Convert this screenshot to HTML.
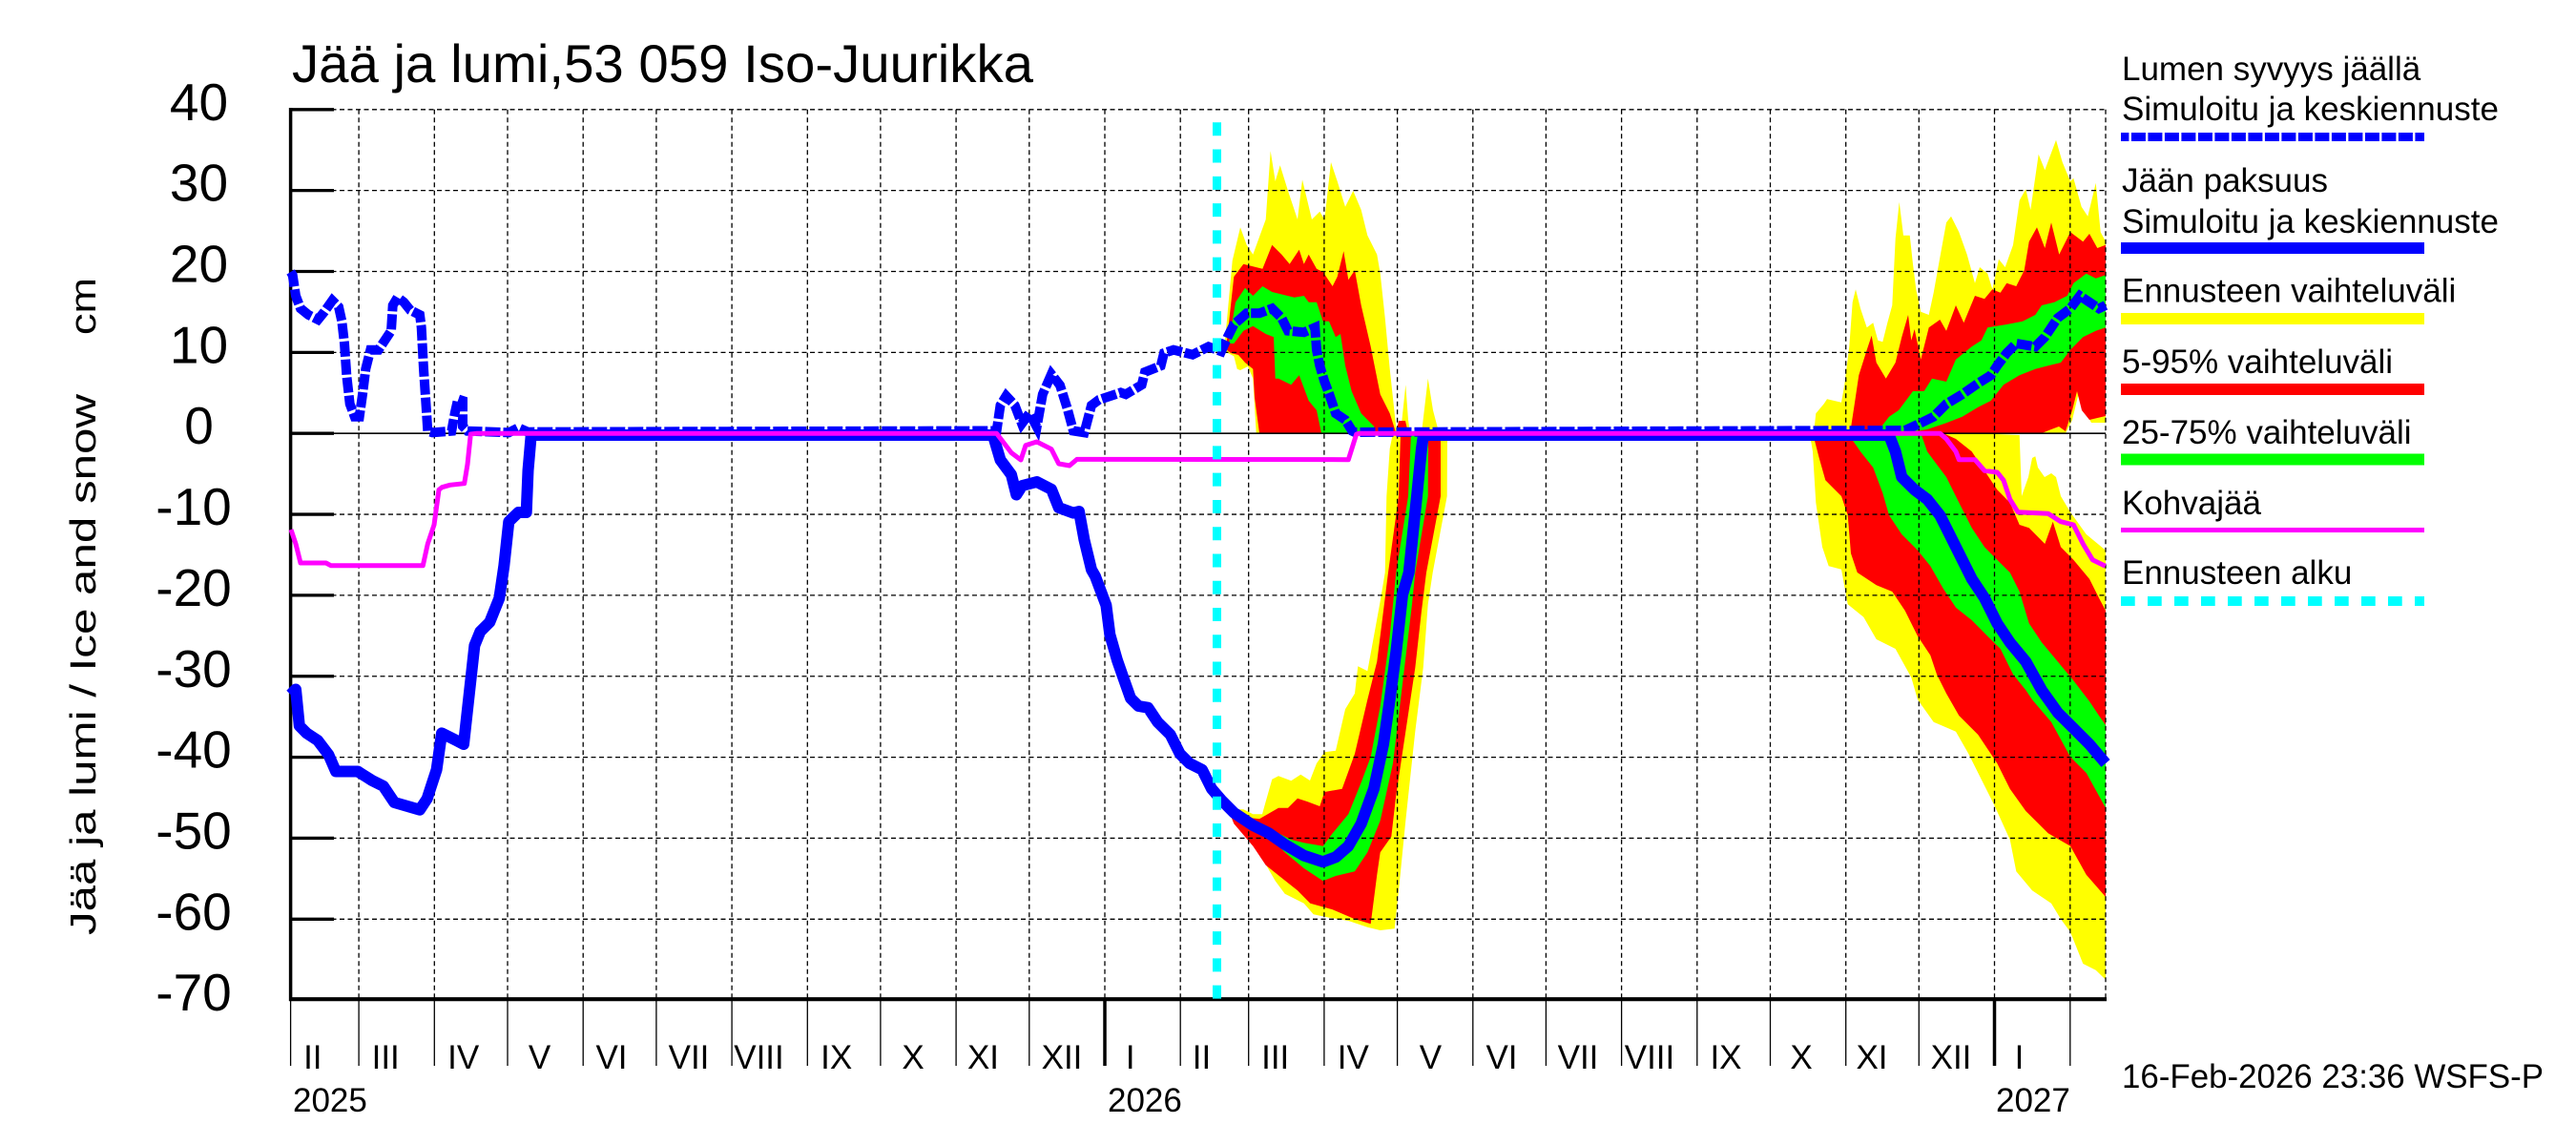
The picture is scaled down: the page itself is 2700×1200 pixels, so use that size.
<!DOCTYPE html>
<html><head><meta charset="utf-8"><style>
html,body{margin:0;padding:0;background:#fff;}
svg{display:block;}
text{font-family:"Liberation Sans",Arial,sans-serif;fill:#000;}
</style></head><body>
<svg width="2700" height="1200" viewBox="0 0 2700 1200" xmlns="http://www.w3.org/2000/svg">
<rect x="0" y="0" width="2700" height="1200" fill="#fff"/>

<!-- ===== spring 2026 snow bands ===== -->
<polygon fill="#ffff00" points="1283,368 1291.7,273.3 1300,238.3 1306.7,256.7 1313.3,266.7 1326.7,230 1331.7,158.3 1336.7,190 1341.7,173.3 1350,200 1360,230 1365,188.3 1375,230 1383.3,221.7 1388.3,230 1395,170 1401.7,190 1410,216.7 1418.3,200 1426.7,220 1433.3,246.7 1443.3,266.7 1446.7,286.7 1451.7,333.3 1456.7,386.7 1461.7,433.3 1464,454 1468,454 1473.3,403.3 1476,440 1478,454 1490,454 1496.7,396.7 1502,430 1508.3,454 1316.7,454 1313.3,396.7 1308,384 1300,388 1296.7,386.7 1293.3,373.3"/>
<polygon fill="#ff0000" points="1285,366 1293.3,290 1303.3,276.7 1323.3,281.7 1333.3,256.7 1343.3,266.7 1351.7,276.7 1361.7,261.7 1366.7,276.7 1371.7,266.7 1380,281.7 1386.7,285 1396.7,300 1401.7,290 1408.3,263.3 1413.3,293.3 1420,283.3 1426.7,320 1436.7,363.3 1446.7,413.3 1456.7,433.3 1463.3,454 1466,441 1473,441 1476,454 1320,454 1315,416.7 1313.3,386.7 1305,380 1298,372 1290,370"/>
<polygon fill="#00ff00" points="1288,360 1290,346.7 1295,316.7 1305,301.7 1313.3,310 1323.3,300 1333.3,306 1356.7,311.7 1366.7,310 1371.7,316.7 1380,316.7 1386.7,336.7 1393,336.7 1400,353.3 1405,350 1410,383.3 1416.7,410 1426.7,433.3 1440,446.7 1441.7,454 1385,454 1380,430 1371.7,420 1361.7,393.3 1353.3,403.3 1340,396.7 1336.7,396.7 1335,353.3 1326.7,350 1313.3,341.7 1303.3,346.7 1293.3,360"/>

<!-- ===== spring 2026 ice bands ===== -->
<polygon fill="#ffff00" points="1288,848.3 1303.3,848.3 1313.3,853.3 1323,853.3 1326.7,840 1333.3,816.7 1340,813.3 1353.3,818.3 1363.3,811.7 1373,818 1380,800 1388.3,788.3 1400,786.7 1410,743.3 1420,726.7 1423.3,698.3 1433.3,703.3 1440,666.7 1446.7,630 1451.7,600 1453.3,520 1456.7,470 1460,454 1517,454 1516.7,520 1501.7,600 1496.7,633.3 1491.7,700 1483.3,766.7 1473.3,860 1466.7,926.7 1461.7,973.3 1446.7,975 1433.3,971.7 1413.3,965 1393.3,961.7 1376.7,958.3 1366.7,946.7 1346.7,936.7 1336.7,923.3 1323.3,900 1306.7,870 1290,856"/>
<polygon fill="#ff0000" points="1290,855 1320,858.3 1340,846.7 1350,846.7 1360,836.7 1370,840 1383.3,845 1388.3,830 1406.7,826.7 1420,790 1433.3,733.3 1443.3,693.3 1450,640 1455,600 1466,520 1468,454 1510,454 1510,520 1495,600 1490,640 1483.3,700 1473.3,766.7 1463.3,833.3 1458.3,876.7 1446.7,893.3 1443.3,916.7 1436.7,968.3 1420,963.3 1396.7,953.3 1373.3,946.7 1360,933.3 1343.3,920 1326.7,906.7 1313.3,886.7 1293.3,863.3"/>
<polygon fill="#00ff00" points="1323.3,870 1335,873 1340,873.3 1353.3,880 1366.7,883.3 1386.7,886.7 1396.7,873.3 1413.3,853.3 1426.7,820 1436.7,793.3 1446.7,740 1456.7,666.7 1463.3,600 1476,520 1479,454 1497,454 1496.7,520 1483.3,600 1480,633.3 1470,716.7 1460,800 1446.7,860 1433.3,893.3 1420,913.3 1400,918 1386.7,923.3 1366.7,910 1346.7,893.3"/>

<!-- ===== autumn 2026 snow bands ===== -->
<polygon fill="#ffff00" points="1900,454 1901.7,448.3 1903.3,433.3 1911.7,423.3 1915,418.3 1930,421.7 1933.3,403.3 1938.3,363.3 1941.7,316.7 1945,303.3 1950,323.3 1956.7,343.3 1963.3,338.3 1968.3,356.7 1973.3,358.3 1978.3,338.3 1983.3,320 1986.7,250 1990.7,211.7 1995,246.7 2001.7,246.7 2005,276.7 2008.3,303.3 2013.3,326.7 2021.7,330 2026.7,306.7 2033.3,270 2040,233.3 2045,226.7 2053.3,243.3 2061.7,266.7 2070,296.7 2075,280 2083.3,286.7 2088.3,303.3 2095,271.7 2101.7,280 2110,256.7 2116.7,210 2123.3,198.3 2128.3,220 2136.7,161.7 2143.3,178.3 2155,146.7 2161.7,170 2170,190 2173.3,186.7 2181.7,216.7 2188.3,226.7 2196.7,191.7 2201.7,243.3 2207,253.3 2207,443 2192,443 2185,430 2178,415 2172,440 2165,454"/>
<polygon fill="#ff0000" points="1938,454 1940,448.3 1943.3,426.7 1948.3,393.3 1956.7,366.7 1961.7,351.7 1966.7,380 1976.7,396.7 1986.7,380 1993.3,353.3 2000,330 2003.3,356.7 2006.7,345 2013.3,376.7 2021.7,343.3 2033.3,335 2040,346.7 2050,320 2058.3,338.3 2070,310 2080,313.3 2088.3,303.3 2096.7,306.7 2103.3,296.7 2113.3,300 2121.7,283.3 2126.7,253.3 2135,238.3 2143.3,260 2150,233.3 2158.3,266.7 2170,243.3 2183.3,253.3 2190,245 2198.3,260 2207,256.7 2207,436 2190,440 2182,430 2177,410 2172,430 2165,452 2158,447 2150,450 2140,454"/>
<polygon fill="#00ff00" points="1966.7,454 1980,436.7 1990,430 2000,416.7 2005,410 2016.7,410 2025,396.7 2040,400 2050,376.7 2066.7,363.3 2076.7,356.7 2083.3,343.3 2103.3,340 2120,336.7 2133.3,330 2140,320 2153.3,316.7 2166.7,310 2173.3,296.7 2186.7,286.7 2196.7,291.7 2207,288.3 2207,343.3 2196.7,346.7 2183.3,353.3 2170,366.7 2160,380 2146.7,383.3 2133.3,386.7 2116.7,393.3 2100,403.3 2086.7,420 2073.3,426.7 2056.7,436.7 2040,443.3 2020,450 1993.3,454"/>

<!-- ===== autumn 2026 ice bands ===== -->
<polygon fill="#ffff00" points="1896.7,454 1900,473.3 1903.3,526.7 1910,573.3 1916.7,593.3 1930,596.7 1936.7,633.3 1953.3,646.7 1966.7,670 1986.7,680 2003.3,710 2010,733.3 2026.7,756.7 2050,766.7 2063.3,790 2073.3,810 2090,843.3 2106.7,880 2113.3,913.3 2130,933.3 2150,946.7 2160,963.3 2170,976.7 2183.3,1010 2196.7,1016.7 2207,1026.7 2207,576.7 2186.7,560 2170,536.7 2160,520 2155,500 2150,496 2143,500 2136,490 2133.3,478.3 2130,480 2126,500 2119,520 2116.7,456 2066.7,454"/>
<polygon fill="#ff0000" points="1900,454 1906.7,480 1913.3,503.3 1930,520 1936.7,540 1940,580 1946.7,600 1966.7,613.3 1983.3,620 1996.7,640 2010,666.7 2023.3,686.7 2030,706.7 2040,726.7 2053.3,750 2073.3,770 2093.3,800 2106.7,826.7 2123.3,850 2146.7,873.3 2170,886.7 2186.7,916.7 2207,940 2207,640 2200,626.7 2190,606.7 2173.3,586.7 2160,573.3 2151.7,546.7 2143.3,570 2126.7,553.3 2116.7,550 2106.7,526.7 2093.3,513.3 2080,493.3 2066.7,473.3 2050,460 2036.7,454"/>
<polygon fill="#00ff00" points="1936.7,454 1950,473.3 1963.3,490 1973.3,516.7 1980,540 1993.3,560 2010,576.7 2023.3,593.3 2036.7,616.7 2050,636.7 2066.7,650 2083.3,666.7 2096.7,680 2110,706.7 2123.3,723.3 2130,733.3 2150,756.7 2170,793.3 2186.7,810 2207,846.7 2207,760 2200,750 2190,735 2173.3,713.3 2156.7,693.3 2140,673.3 2126.7,653.3 2116.7,620 2106.7,600 2093.3,586.7 2080,573.3 2066.7,553.3 2053.3,526.7 2040,500 2030,486.7 2020,473.3 2013.3,454"/>

<!-- ===== grid ===== -->
<g stroke="#000" stroke-width="1.3" stroke-dasharray="5 3.5" fill="none">
<line x1="305" y1="114.8" x2="2207" y2="114.8"/>
<line x1="305" y1="199.65" x2="2207" y2="199.65"/>
<line x1="305" y1="284.5" x2="2207" y2="284.5"/>
<line x1="305" y1="369.35" x2="2207" y2="369.35"/>
<line x1="305" y1="539.05" x2="2207" y2="539.05"/>
<line x1="305" y1="623.9" x2="2207" y2="623.9"/>
<line x1="305" y1="708.75" x2="2207" y2="708.75"/>
<line x1="305" y1="793.6" x2="2207" y2="793.6"/>
<line x1="305" y1="878.45" x2="2207" y2="878.45"/>
<line x1="305" y1="963.3" x2="2207" y2="963.3"/>
<line x1="376.1" y1="114.8" x2="376.1" y2="1046"/>
<line x1="455.3" y1="114.8" x2="455.3" y2="1046"/>
<line x1="532" y1="114.8" x2="532" y2="1046"/>
<line x1="611.2" y1="114.8" x2="611.2" y2="1046"/>
<line x1="687.9" y1="114.8" x2="687.9" y2="1046"/>
<line x1="767.1" y1="114.8" x2="767.1" y2="1046"/>
<line x1="846.3" y1="114.8" x2="846.3" y2="1046"/>
<line x1="922.9" y1="114.8" x2="922.9" y2="1046"/>
<line x1="1002.1" y1="114.8" x2="1002.1" y2="1046"/>
<line x1="1078.8" y1="114.8" x2="1078.8" y2="1046"/>
<line x1="1158" y1="114.8" x2="1158" y2="1046"/>
<line x1="1237.2" y1="114.8" x2="1237.2" y2="1046"/>
<line x1="1308.7" y1="114.8" x2="1308.7" y2="1046"/>
<line x1="1387.9" y1="114.8" x2="1387.9" y2="1046"/>
<line x1="1464.6" y1="114.8" x2="1464.6" y2="1046"/>
<line x1="1543.8" y1="114.8" x2="1543.8" y2="1046"/>
<line x1="1620.4" y1="114.8" x2="1620.4" y2="1046"/>
<line x1="1699.6" y1="114.8" x2="1699.6" y2="1046"/>
<line x1="1778.8" y1="114.8" x2="1778.8" y2="1046"/>
<line x1="1855.5" y1="114.8" x2="1855.5" y2="1046"/>
<line x1="1934.7" y1="114.8" x2="1934.7" y2="1046"/>
<line x1="2011.3" y1="114.8" x2="2011.3" y2="1046"/>
<line x1="2090.5" y1="114.8" x2="2090.5" y2="1046"/>
<line x1="2169.8" y1="114.8" x2="2169.8" y2="1046"/>
<line x1="2207" y1="114.8" x2="2207" y2="1046"/>
</g>

<!-- zero line -->
<line x1="305" y1="454.2" x2="2207" y2="454.2" stroke="#000" stroke-width="1.6"/>

<!-- axes -->
<line x1="304.6" y1="113" x2="304.6" y2="1049" stroke="#000" stroke-width="3.5"/>
<line x1="303" y1="1047.2" x2="2208" y2="1047.2" stroke="#000" stroke-width="4.2"/>
<g stroke="#000" stroke-width="3.3">
<line x1="305" y1="114.8" x2="350" y2="114.8"/>
<line x1="305" y1="199.65" x2="350" y2="199.65"/>
<line x1="305" y1="284.5" x2="350" y2="284.5"/>
<line x1="305" y1="369.35" x2="350" y2="369.35"/>
<line x1="305" y1="454.2" x2="350" y2="454.2"/>
<line x1="305" y1="539.05" x2="350" y2="539.05"/>
<line x1="305" y1="623.9" x2="350" y2="623.9"/>
<line x1="305" y1="708.75" x2="350" y2="708.75"/>
<line x1="305" y1="793.6" x2="350" y2="793.6"/>
<line x1="305" y1="878.45" x2="350" y2="878.45"/>
<line x1="305" y1="963.3" x2="350" y2="963.3"/>
</g>

<!-- bottom month separators -->
<g stroke="#000" stroke-width="1.3">
<line x1="304.6" y1="1049" x2="304.6" y2="1117"/>
<line x1="376.1" y1="1049" x2="376.1" y2="1117"/>
<line x1="455.3" y1="1049" x2="455.3" y2="1117"/>
<line x1="532" y1="1049" x2="532" y2="1117"/>
<line x1="611.2" y1="1049" x2="611.2" y2="1117"/>
<line x1="687.9" y1="1049" x2="687.9" y2="1117"/>
<line x1="767.1" y1="1049" x2="767.1" y2="1117"/>
<line x1="846.3" y1="1049" x2="846.3" y2="1117"/>
<line x1="922.9" y1="1049" x2="922.9" y2="1117"/>
<line x1="1002.1" y1="1049" x2="1002.1" y2="1117"/>
<line x1="1078.8" y1="1049" x2="1078.8" y2="1117"/>
<line x1="1237.2" y1="1049" x2="1237.2" y2="1117"/>
<line x1="1308.7" y1="1049" x2="1308.7" y2="1117"/>
<line x1="1387.9" y1="1049" x2="1387.9" y2="1117"/>
<line x1="1464.6" y1="1049" x2="1464.6" y2="1117"/>
<line x1="1543.8" y1="1049" x2="1543.8" y2="1117"/>
<line x1="1620.4" y1="1049" x2="1620.4" y2="1117"/>
<line x1="1699.6" y1="1049" x2="1699.6" y2="1117"/>
<line x1="1778.8" y1="1049" x2="1778.8" y2="1117"/>
<line x1="1855.5" y1="1049" x2="1855.5" y2="1117"/>
<line x1="1934.7" y1="1049" x2="1934.7" y2="1117"/>
<line x1="2011.3" y1="1049" x2="2011.3" y2="1117"/>
<line x1="2169.8" y1="1049" x2="2169.8" y2="1117"/>
</g>
<g stroke="#000" stroke-width="3.5">
<line x1="1158" y1="1049" x2="1158" y2="1117"/>
<line x1="2090.5" y1="1049" x2="2090.5" y2="1117"/>
</g>

<!-- ===== series ===== -->
<!-- ice thickness -->
<polyline fill="none" stroke="#0000ff" stroke-width="12" stroke-linejoin="round" points="304.6,728 310,722.5 313.8,760.7 321.4,768.4 333,776 344.4,791 352,808.5 375,808.5 390,818 401.8,823.9 413.3,841 440,848.7 447.7,837 457.6,806.6 463,768.4 478.3,776 486,780 489.8,745.4 497.4,676.5 503.3,662 513.3,652 523.3,627 528.3,593 533.3,546.7 543.3,537 551.7,537 553.5,493 556.7,456 1040.8,456 1048.5,482 1060,497.5 1065.3,518.5 1071.4,509 1086.7,505 1102,512.8 1109.7,532 1125,537.6 1131,536 1136.5,566 1144,597 1148,604 1159.4,634.4 1163.3,665 1171,692 1178,712 1185,731.7 1193.3,740 1203.3,741.7 1213.3,756.7 1226.7,770 1236.7,790 1246.7,800 1260,806.7 1270,826.7 1280,838.3 1293.3,851.7 1313.3,865 1330,873.3 1346.7,885 1366.7,896.7 1386.7,903.3 1400,898.3 1413.3,886.7 1426.7,863.3 1440,826.7 1450,780 1456.7,733.3 1463.3,683.3 1470,623.3 1476.7,600 1485,520 1490,470 1492,456 1980,456 1986.7,473.3 1993.3,500 2006.7,513.3 2020,523.3 2033.3,540 2046.7,566.7 2056.7,586.7 2066.7,606.7 2080,626.7 2093.3,653.3 2106.7,673.3 2123.3,693.3 2140,723.3 2156.7,746.7 2173.3,763.3 2190,780 2207,800"/>
<!-- snow depth (dashed) -->
<polyline fill="none" stroke="#0000ff" stroke-width="10" stroke-dasharray="16 3" points="304.6,285 306.7,288.3 310,310 315,323.3 323.3,330 333.3,335 340,326.7 348.3,315 355,321.7 358.3,336.7 361,360 363.3,393.3 366.7,423.3 371.7,436.7 376.7,436.7 380,413.3 383.3,386.7 388.3,366.7 396.7,366.7 403.3,356.7 410,346.7 411.7,320 416.7,311.7 423.3,316.7 430,325 440,330 441.7,343.3 444,386.7 446.7,426.7 448.3,451.7 453.3,453.3 473.3,451.7 476.7,433.3 480,418.3 485,420 485,446.7 490,451.7 533.3,453.3 543.3,448.3 553.3,452.7 1044.6,451.5 1048.5,424.8 1054.6,415 1063.7,424.8 1071,444 1079,433 1086.7,447.5 1092.8,413.3 1102,392.2 1111,403.7 1118.8,428.6 1125,451.5 1136.5,453.3 1144,424.8 1151.8,419 1174.7,411.4 1180,413.3 1196.7,403.3 1200,390 1216.7,383.3 1220,370 1230,366.7 1250,371.7 1266.7,363.3 1280,368.3 1286.7,353.3 1293.3,340 1306.7,328.3 1320,328.3 1333.3,323.3 1343.3,333.3 1350,346.7 1366.7,348.3 1378.3,343.3 1380,366.7 1383.3,383.3 1388.3,400 1393.3,413.3 1400,433.3 1410,440 1417.3,451.7 1420,453 1996.7,451 2013.3,443.3 2026.7,436.7 2040,423.3 2056.7,413.3 2073.3,401.7 2086.7,393.3 2093.3,383.3 2103.3,370 2113.3,360 2133.3,363.3 2143.3,353.3 2156.7,333.3 2170,323.3 2180,310 2190,316.7 2200,323.3 2207,320"/>
<!-- kohvajaa -->
<polyline fill="none" stroke="#ff00ff" stroke-width="5" stroke-linejoin="round" points="305,555 310,570 315,590 341.7,590 346.7,592.7 443.3,592.7 448.3,570 455,550 460,513.3 463.3,510.7 471.7,508.3 486.7,506.7 490,486.7 493.3,455 500,454.2 1044.6,454.2 1060,474.5 1070,482 1075,466.8 1086.7,463 1102,470.7 1109.7,486 1121,488 1128.8,481.4 1413.3,481.7 1421.7,455 1425,454.2 2033.3,454.2 2040,460 2050,473.3 2053.3,481.7 2070,481.7 2080,493.3 2093.3,495 2100,503.3 2106.7,523.3 2115,536.7 2146.7,538.3 2160,546.7 2173.3,550 2183.3,570 2193.3,586.7 2206.7,593.3"/>
<!-- forecast start -->
<line x1="1275.5" y1="128.3" x2="1275.5" y2="1047" stroke="#00ffff" stroke-width="9" stroke-dasharray="14 14.26"/>

<!-- ===== text ===== -->
<text x="306" y="86" font-size="56" textLength="777" lengthAdjust="spacingAndGlyphs">Jää ja lumi,53 059 Iso-Juurikka</text>

<g font-size="55" text-anchor="middle">
<text x="208.5" y="126">40</text>
<text x="208.5" y="210.7">30</text>
<text x="208.5" y="295.5">20</text>
<text x="208.5" y="380.4">10</text>
<text x="208.5" y="465.2">0</text>
<text x="203" y="550">-10</text>
<text x="203" y="635">-20</text>
<text x="203" y="719.8">-30</text>
<text x="203" y="804.6">-40</text>
<text x="203" y="889.5">-50</text>
<text x="203" y="974.3">-60</text>
<text x="203" y="1059.2">-70</text>
</g>

<text transform="translate(100,980) rotate(-90)" font-size="38" textLength="567" lengthAdjust="spacingAndGlyphs">Jää ja lumi / Ice and snow</text>
<text transform="translate(100,351) rotate(-90)" font-size="38" textLength="60" lengthAdjust="spacingAndGlyphs">cm</text>

<g font-size="35" text-anchor="middle">
<text x="327.8" y="1120">II</text>
<text x="404.2" y="1120">III</text>
<text x="485.7" y="1120">IV</text>
<text x="565.5" y="1120">V</text>
<text x="641" y="1120">VI</text>
<text x="722" y="1120">VII</text>
<text x="795.5" y="1120">VIII</text>
<text x="876.7" y="1120">IX</text>
<text x="957" y="1120">X</text>
<text x="1030.5" y="1120">XI</text>
<text x="1113" y="1120">XII</text>
<text x="1184.7" y="1120">I</text>
<text x="1259.5" y="1120">II</text>
<text x="1336.7" y="1120">III</text>
<text x="1418.3" y="1120">IV</text>
<text x="1499.4" y="1120">V</text>
<text x="1574" y="1120">VI</text>
<text x="1654" y="1120">VII</text>
<text x="1729" y="1120">VIII</text>
<text x="1809" y="1120">IX</text>
<text x="1888" y="1120">X</text>
<text x="1962" y="1120">XI</text>
<text x="2045" y="1120">XII</text>
<text x="2116.5" y="1120">I</text>
</g>
<g font-size="35">
<text x="307" y="1165">2025</text>
<text x="1161" y="1165">2026</text>
<text x="2092" y="1165">2027</text>
<text x="2224" y="1140" textLength="442" lengthAdjust="spacingAndGlyphs">16-Feb-2026 23:36 WSFS-P</text>
</g>

<!-- ===== legend ===== -->
<g font-size="35">
<text x="2224" y="84">Lumen syvyys jäällä</text>
<text x="2224" y="126">Simuloitu ja keskiennuste</text>
<text x="2224" y="201">Jään paksuus</text>
<text x="2224" y="244">Simuloitu ja keskiennuste</text>
<text x="2224" y="316.5">Ennusteen vaihteluväli</text>
<text x="2224" y="391">5-95% vaihteluväli</text>
<text x="2224" y="465">25-75% vaihteluväli</text>
<text x="2224" y="539">Kohvajää</text>
<text x="2224" y="612">Ennusteen alku</text>
</g>
<line x1="2223" y1="143.5" x2="2541" y2="143.5" stroke="#0000ff" stroke-width="9" stroke-dasharray="15 2.5" stroke-dashoffset="6.6"/>
<line x1="2223" y1="260" x2="2541" y2="260" stroke="#0000ff" stroke-width="12"/>
<line x1="2223" y1="334" x2="2541" y2="334" stroke="#ffff00" stroke-width="12"/>
<line x1="2223" y1="408" x2="2541" y2="408" stroke="#ff0000" stroke-width="12"/>
<line x1="2223" y1="481.5" x2="2541" y2="481.5" stroke="#00ff00" stroke-width="12"/>
<line x1="2223" y1="555.5" x2="2541" y2="555.5" stroke="#ff00ff" stroke-width="5"/>
<line x1="2223" y1="630" x2="2541" y2="630" stroke="#00ffff" stroke-width="10" stroke-dasharray="14.7 13.3"/>
</svg>
</body></html>
